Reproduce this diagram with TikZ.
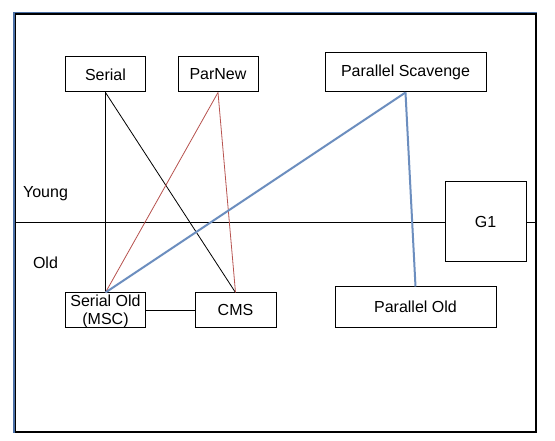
\documentclass[tikz,border=0pt]{standalone}
\usepackage{fontspec}
\setmainfont{Liberation Sans}
\definecolor{bluel}{HTML}{6C8EBF}
\definecolor{redl}{HTML}{B85450}
\definecolor{framebl}{HTML}{4A6FA5}
\begin{document}
\begin{tikzpicture}[x=1pt,y=-1pt,
  gcbox/.style={draw=black,line width=1pt,fill=white,inner sep=0pt,align=center,
    font=\fontsize{16}{18}\selectfont},
  lbl/.style={inner sep=0pt,font=\fontsize{16}{18}\selectfont},
  blk/.style={draw=black,line width=0.8pt},
  redc/.style={draw=redl,line width=0.8pt},
  bluec/.style={draw=bluel,line width=2pt}]
\useasboundingbox (0,0) rectangle (555,441);
\fill[white] (0,0) rectangle (555,441);
\draw[framebl,line width=1.2pt] (14,12.5) rectangle (536,432);
\draw[black,line width=1.2pt] (15.5,14) rectangle (536,432);
\coordinate (fl) at (15.5,222);
\coordinate (fr) at (536,222);
% nodes
\node[gcbox,minimum width=80pt,minimum height=35pt] (serial) at (105.5,74.5) {Serial};
\node[gcbox,minimum width=80pt,minimum height=35pt] (parnew) at (218,74.5) {ParNew};
\node[gcbox,minimum width=161pt,minimum height=39pt] (ps) at (405.5,72.5) {Parallel Scavenge};
\node[gcbox,minimum width=81pt,minimum height=80pt] (g1) at (485.5,222) {G1};
\node[gcbox,minimum width=80pt,minimum height=34pt] (so) at (105.5,310) {};
\node[lbl,align=center] (solbl) at (105.5,311) {Serial Old\\(MSC)};
\node[gcbox,minimum width=81pt,minimum height=34pt] (cms) at (235.5,310) {CMS};
\node[gcbox,minimum width=161pt,minimum height=40pt] (po) at (415.5,307) {Parallel Old};
\node[lbl] (young) at (45.5,194) {Young};
\node[lbl] (old) at (45.5,263) {Old};
% connectors
\draw[blk] (fl) -- (g1.west);
\draw[blk] (g1.east) -- (fr);
\draw[blk] (serial.south) -- (so.north);
\draw[blk] (serial.south) -- (cms.north);
\draw[redc] (parnew.south) -- (so.north);
\draw[redc] (parnew.south) -- (cms.north);
\draw[bluec] (ps.south) -- (so.north);
\draw[bluec] (ps.south) -- (po.north);
\draw[blk] (so.east) -- (cms.west);
\end{tikzpicture}
\end{document}
